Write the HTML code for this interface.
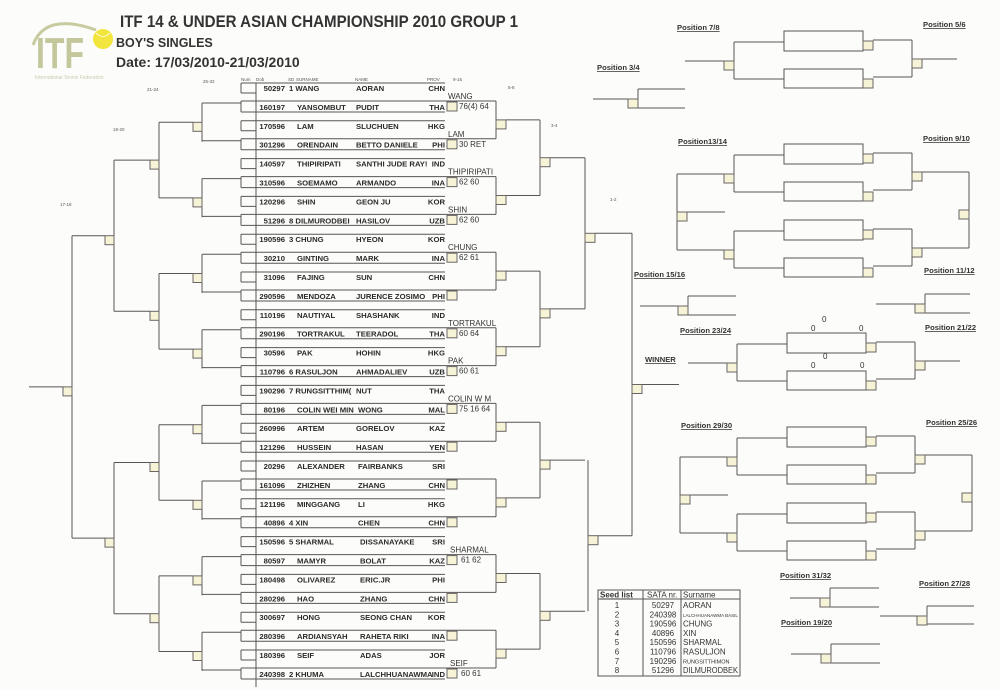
<!DOCTYPE html>
<html><head><meta charset="utf-8"><style>
body{margin:0;background:#fcfcfa;}
svg{display:block;font-family:"Liberation Sans",Arial,sans-serif;}
.l{stroke:#5a5555;stroke-width:1;fill:none;}
.bx{fill:#f6f3d6;stroke:#6a6565;stroke-width:1;}
.r{font-size:7.7px;font-weight:bold;fill:#2a2a2a;}
.w{font-size:8px;fill:#333;}
.t{font-size:4.5px;fill:#555;}
.p{font-size:7.6px;font-weight:bold;fill:#333;text-decoration:underline;}
.s{font-size:8px;fill:#333;}
</style></head><body>
<svg width="1000" height="690" viewBox="0 0 1000 690" xmlns="http://www.w3.org/2000/svg">
<defs>
<g id="pair">
<path class="l" d="M241 83H445M241 93H256M241 101H496M241 112H445M241 83V93M241 101V112M202 103H241"/>
<rect class="bx" x="447" y="102" width="10" height="9"/>
</g>
<g id="r2"><path class="l" d="M496 101V138.8M506 119.9H540"/><rect class="bx" x="496" y="119.9" width="10" height="9"/></g>
<g id="r3"><path class="l" d="M540 119.9V195.5M550 157.7H585"/><rect class="bx" x="540" y="157.7" width="10" height="9"/></g>
<g id="l1"><path class="l" d="M202 103V141.7M159 122.3H193"/><rect class="bx" x="193" y="122.3" width="9" height="9"/></g>
<g id="l2"><path class="l" d="M159 122.3V197.9M114 160.1H150"/><rect class="bx" x="150" y="160.1" width="9" height="9"/></g>
<g id="quad">
<rect class="l" x="784" y="0" width="79" height="20"/><rect class="l" x="784" y="38" width="79" height="19"/>
<rect class="bx" x="863" y="10" width="10" height="9"/><rect class="bx" x="863" y="48" width="10" height="9"/>
<path class="l" d="M873 9H912M873 46H912M912 9V46M922 28H957M734 11H784M734 48H784M734 11V48M685 30H724"/>
<rect class="bx" x="912" y="28" width="10" height="9"/><rect class="bx" x="724" y="30" width="10" height="9"/>
</g>
<g id="oct">
<use href="#quad"/><use href="#quad" y="76"/>
<path class="l" d="M922 28H969M922 104H969M969 28V104M677 30V106M677 30H685M677 106H685M687 68H725"/>
<rect class="bx" x="959" y="66" width="10" height="9"/><rect class="bx" x="677" y="68" width="10" height="9"/>
</g>
</defs>

<!-- logo -->
<path d="M33 45 Q45 12 96 30" stroke="#c8cba0" stroke-width="3" fill="none"/>
<text x="36" y="68" font-size="44" font-weight="bold" fill="#c3c79b" textLength="48" lengthAdjust="spacingAndGlyphs">ITF</text>
<circle cx="103" cy="39" r="10" fill="#f1e53e"/>
<path d="M96 33 Q103 40 110 33" stroke="#fff" stroke-width="0.8" fill="none"/>
<text x="35" y="79" font-size="5" fill="#c9ccb0">International Tennis Federation</text>

<text x="120" y="27" font-size="17" font-weight="bold" fill="#333" textLength="398" lengthAdjust="spacingAndGlyphs">ITF 14 &amp; UNDER ASIAN CHAMPIONSHIP 2010 GROUP 1</text>
<text x="116" y="47" font-size="12.5" font-weight="bold" fill="#333">BOY'S SINGLES</text>
<text x="116" y="67" font-size="14" font-weight="bold" fill="#333">Date:   17/03/2010-21/03/2010</text>

<!-- tiny labels -->
<text class="t" x="241" y="81">Num</text><text class="t" x="256" y="81">Dob</text><text class="t" x="288" y="81">SD</text><text class="t" x="296" y="81">SURNAME</text><text class="t" x="355" y="81">NAME</text><text class="t" x="427" y="81">PROV</text><text class="t" x="453" y="81">9-16</text>
<text class="t" x="203" y="83">25-32</text><text class="t" x="147" y="91">21-24</text><text class="t" x="113" y="131">19-20</text><text class="t" x="60" y="206">17-18</text><text class="t" x="508" y="89">5-8</text><text class="t" x="551" y="127">3-4</text><text class="t" x="610" y="201">1-2</text>

<!-- pairs -->
<use href="#pair"/><use href="#pair" y="37.8"/><use href="#pair" y="75.6"/><use href="#pair" y="113.4"/>
<use href="#pair" y="151.2"/><use href="#pair" y="189"/><use href="#pair" y="226.8"/><use href="#pair" y="264.6"/>
<use href="#pair" y="302.4"/><use href="#pair" y="340.2"/><use href="#pair" y="378"/><use href="#pair" y="415.8"/>
<use href="#pair" y="453.6"/><use href="#pair" y="491.4"/><use href="#pair" y="529.2"/><use href="#pair" y="567"/>
<path class="l" d="M256 83V687"/>

<use href="#r2"/><use href="#r2" y="75.6"/><use href="#r2" y="151.2"/><use href="#r2" y="226.8"/>
<use href="#r2" y="302.4"/><use href="#r2" y="378"/><use href="#r2" y="453.6"/><use href="#r2" y="529.2"/>
<use href="#r3"/><use href="#r3" y="151.2"/><use href="#r3" y="302.4"/><use href="#r3" y="453.6"/>
<path class="l" d="M585 157.7V308.9M595 233.3H632M588 460.1V611.3M598 535.7H632M632 233.3V535.7M642 384.5H679"/>
<rect class="bx" x="585" y="233.3" width="10" height="9"/><rect class="bx" x="588" y="535.7" width="10" height="9"/><rect class="bx" x="632" y="384.5" width="10" height="9"/>

<use href="#l1"/><use href="#l1" y="75.6"/><use href="#l1" y="151.2"/><use href="#l1" y="226.8"/>
<use href="#l1" y="302.4"/><use href="#l1" y="378"/><use href="#l1" y="453.6"/><use href="#l1" y="529.2"/>
<use href="#l2"/><use href="#l2" y="151.2"/><use href="#l2" y="302.4"/><use href="#l2" y="453.6"/>
<path class="l" d="M114 160.1V311.3M72 235.7H105M114 462.5V613.7M72 538.1H105M72 235.7V538.1M29 386.9H63"/>
<rect class="bx" x="105" y="235.7" width="9" height="9"/><rect class="bx" x="105" y="538.1" width="9" height="9"/><rect class="bx" x="63" y="386.9" width="9" height="9"/>

<!-- player rows -->
<g class="r">
<g text-anchor="end">
<text x="285" y="91">50297</text><text x="285" y="109.9">160197</text><text x="285" y="128.8">170596</text><text x="285" y="147.7">301296</text>
<text x="285" y="166.6">140597</text><text x="285" y="185.5">310596</text><text x="285" y="204.4">120296</text><text x="285" y="223.3">51296</text>
<text x="285" y="242.2">190596</text><text x="285" y="261.1">30210</text><text x="285" y="280">31096</text><text x="285" y="298.9">290596</text>
<text x="285" y="317.8">110196</text><text x="285" y="336.7">290196</text><text x="285" y="355.6">30596</text><text x="285" y="374.5">110796</text>
<text x="285" y="393.4">190296</text><text x="285" y="412.3">80196</text><text x="285" y="431.2">260996</text><text x="285" y="450.1">121296</text>
<text x="285" y="469">20296</text><text x="285" y="487.9">161096</text><text x="285" y="506.8">121196</text><text x="285" y="525.7">40896</text>
<text x="285" y="544.6">150596</text><text x="285" y="563.5">80597</text><text x="285" y="582.4">180498</text><text x="285" y="601.3">280296</text>
<text x="285" y="620.2">300697</text><text x="285" y="639.1">280396</text><text x="285" y="658">180396</text><text x="285" y="676.9">240398</text>
<text x="445" y="91">CHN</text><text x="445" y="109.9">THA</text><text x="445" y="128.8">HKG</text><text x="445" y="147.7">PHI</text>
<text x="445" y="166.6">IND</text><text x="445" y="185.5">INA</text><text x="445" y="204.4">KOR</text><text x="445" y="223.3">UZB</text>
<text x="445" y="242.2">KOR</text><text x="445" y="261.1">INA</text><text x="445" y="280">CHN</text><text x="445" y="298.9">PHI</text>
<text x="445" y="317.8">IND</text><text x="445" y="336.7">THA</text><text x="445" y="355.6">HKG</text><text x="445" y="374.5">UZB</text>
<text x="445" y="393.4">THA</text><text x="445" y="412.3">MAL</text><text x="445" y="431.2">KAZ</text><text x="445" y="450.1">YEN</text>
<text x="445" y="469">SRI</text><text x="445" y="487.9">CHN</text><text x="445" y="506.8">HKG</text><text x="445" y="525.7">CHN</text>
<text x="445" y="544.6">SRI</text><text x="445" y="563.5">KAZ</text><text x="445" y="582.4">PHI</text><text x="445" y="601.3">CHN</text>
<text x="445" y="620.2">KOR</text><text x="445" y="639.1">INA</text><text x="445" y="658">JOR</text><text x="445" y="676.9">IND</text>
</g>
<text x="289" y="91">1 WANG</text><text x="297" y="109.9">YANSOMBUT</text><text x="297" y="128.8">LAM</text><text x="297" y="147.7">ORENDAIN</text>
<text x="297" y="166.6">THIPIRIPATI</text><text x="297" y="185.5">SOEMAMO</text><text x="297" y="204.4">SHIN</text><text x="289" y="223.3">8 DILMURODBEI</text>
<text x="289" y="242.2">3 CHUNG</text><text x="297" y="261.1">GINTING</text><text x="297" y="280">FAJING</text><text x="297" y="298.9">MENDOZA</text>
<text x="297" y="317.8">NAUTIYAL</text><text x="297" y="336.7">TORTRAKUL</text><text x="297" y="355.6">PAK</text><text x="289" y="374.5">6 RASULJON</text>
<text x="289" y="393.4">7 RUNGSITTHIM(</text><text x="297" y="412.3">COLIN WEI MIN</text><text x="297" y="431.2">ARTEM</text><text x="297" y="450.1">HUSSEIN</text>
<text x="297" y="469">ALEXANDER</text><text x="297" y="487.9">ZHIZHEN</text><text x="297" y="506.8">MINGGANG</text><text x="289" y="525.7">4 XIN</text>
<text x="289" y="544.6">5 SHARMAL</text><text x="297" y="563.5">MAMYR</text><text x="297" y="582.4">OLIVAREZ</text><text x="297" y="601.3">HAO</text>
<text x="297" y="620.2">HONG</text><text x="297" y="639.1">ARDIANSYAH</text><text x="297" y="658">SEIF</text><text x="289" y="676.9">2 KHUMA</text>
<text x="356" y="91">AORAN</text><text x="356" y="109.9">PUDIT</text><text x="356" y="128.8">SLUCHUEN</text><text x="356" y="147.7">BETTO DANIELE</text>
<text x="356" y="166.6">SANTHI JUDE RAY!</text><text x="356" y="185.5">ARMANDO</text><text x="356" y="204.4">GEON JU</text><text x="356" y="223.3">HASILOV</text>
<text x="356" y="242.2">HYEON</text><text x="356" y="261.1">MARK</text><text x="356" y="280">SUN</text><text x="356" y="298.9">JURENCE ZOSIMO</text>
<text x="356" y="317.8">SHASHANK</text><text x="356" y="336.7">TEERADOL</text><text x="356" y="355.6">HOHIN</text><text x="356" y="374.5">AHMADALIEV</text>
<text x="356" y="393.4">NUT</text><text x="358" y="412.3">WONG</text><text x="356" y="431.2">GORELOV</text><text x="356" y="450.1">HASAN</text>
<text x="358" y="469">FAIRBANKS</text><text x="358" y="487.9">ZHANG</text><text x="358" y="506.8">LI</text><text x="358" y="525.7">CHEN</text>
<text x="360" y="544.6">DISSANAYAKE</text><text x="360" y="563.5">BOLAT</text><text x="360" y="582.4">ERIC.JR</text><text x="360" y="601.3">ZHANG</text>
<text x="360" y="620.2">SEONG CHAN</text><text x="360" y="639.1">RAHETA RIKI</text><text x="360" y="658">ADAS</text><text x="360" y="676.9">LALCHHUANAWMA</text>
</g>

<!-- winners -->
<g class="w">
<text x="448" y="99">WANG</text><text x="459" y="109">76(4) 64</text>
<text x="448" y="136.8">LAM</text><text x="459" y="146.8">30 RET</text>
<text x="448" y="174.6">THIPIRIPATI</text><text x="459" y="184.6">62 60</text>
<text x="448" y="212.4">SHIN</text><text x="459" y="222.4">62 60</text>
<text x="448" y="250.2">CHUNG</text><text x="459" y="260.2">62 61</text>
<text x="448" y="325.8">TORTRAKUL</text><text x="459" y="335.8">60 64</text>
<text x="448" y="363.6">PAK</text><text x="459" y="373.6">60 61</text>
<text x="448" y="401.4">COLIN W M</text><text x="459" y="411.4">75 16 64</text>
<text x="450" y="552.6">SHARMAL</text><text x="461" y="562.6">61 62</text>
<text x="450" y="666">SEIF</text><text x="461" y="676">60 61</text>
</g>

<!-- right side consolation -->
<use href="#quad" y="31"/>
<use href="#oct" y="144"/>
<use href="#quad" x="3" y="333"/>
<use href="#oct" x="3" y="427"/>

<path class="l" d="M593 99H628M638 89H685M638 108H685M638 89V108"/><rect class="bx" x="628" y="99" width="10" height="9"/>
<path class="l" d="M640 306H678M688 296H736M688 315H736M688 296V315"/><rect class="bx" x="678" y="306" width="10" height="9"/>
<path class="l" d="M876 304H915M925 294H970M925 313H970M925 294V313"/><rect class="bx" x="915" y="304" width="10" height="9"/>
<path class="l" d="M790 598H820M830 588H879M830 607H879M830 588V607"/><rect class="bx" x="820" y="598" width="10" height="9"/>
<path class="l" d="M791 654H821M831 644H880M831 663H880M831 644V663"/><rect class="bx" x="821" y="654" width="10" height="9"/>
<path class="l" d="M880 616H917M927 606H974M927 624H974M927 606V624"/><rect class="bx" x="917" y="616" width="10" height="9"/>

<g class="p">
<text x="677" y="30">Position 7/8</text><text x="923" y="27">Position 5/6</text><text x="597" y="70">Position 3/4</text>
<text x="678" y="144">Position13/14</text><text x="923" y="141">Position 9/10</text>
<text x="634" y="277">Position 15/16</text><text x="924" y="273">Position 11/12</text>
<text x="680" y="333">Position 23/24</text><text x="925" y="330">Position 21/22</text>
<text x="645" y="362">WINNER</text>
<text x="681" y="428">Position 29/30</text><text x="926" y="425">Position 25/26</text>
<text x="780" y="578">Position 31/32</text><text x="919" y="586">Position 27/28</text>
<text x="781" y="625">Position 19/20</text>
</g>
<g class="w" font-size="7"><text x="822" y="322">0</text><text x="811" y="331">0</text><text x="859" y="331">0</text><text x="823" y="359">0</text><text x="811" y="368">0</text><text x="860" y="368">0</text></g>

<!-- seed table -->
<rect class="l" x="598" y="590" width="142" height="86"/>
<path class="l" d="M643 590V676M681 590V676M598 599H740"/>
<g class="s">
<text x="600" y="597.5" font-weight="bold" text-decoration="underline">Seed list</text>
<text x="647" y="597.5">SATA nr.</text><text x="683" y="597.5">Surname</text>
<g text-anchor="middle">
<text x="617" y="608">1</text><text x="617" y="617.3">2</text><text x="617" y="626.6">3</text><text x="617" y="635.9">4</text><text x="617" y="645.2">5</text><text x="617" y="654.5">6</text><text x="617" y="663.8">7</text><text x="617" y="673.1">8</text>
<text x="663" y="608">50297</text><text x="663" y="617.3">240398</text><text x="663" y="626.6">190596</text><text x="663" y="635.9">40896</text><text x="663" y="645.2">150596</text><text x="663" y="654.5">110796</text><text x="663" y="663.8">190296</text><text x="663" y="673.1">51296</text>
</g>
<text x="683" y="608">AORAN</text><text x="683" y="617" font-size="4.5">LALCHHUANAWMA BASIL</text><text x="683" y="626.6">CHUNG</text><text x="683" y="635.9">XIN</text><text x="683" y="645.2">SHARMAL</text><text x="683" y="654.5">RASULJON</text><text x="683" y="663.5" font-size="5.5">RUNGSITTHIMON</text><text x="683" y="673.1" textLength="55" lengthAdjust="spacingAndGlyphs">DILMURODBEK</text>
</g>
</svg>
</body></html>
